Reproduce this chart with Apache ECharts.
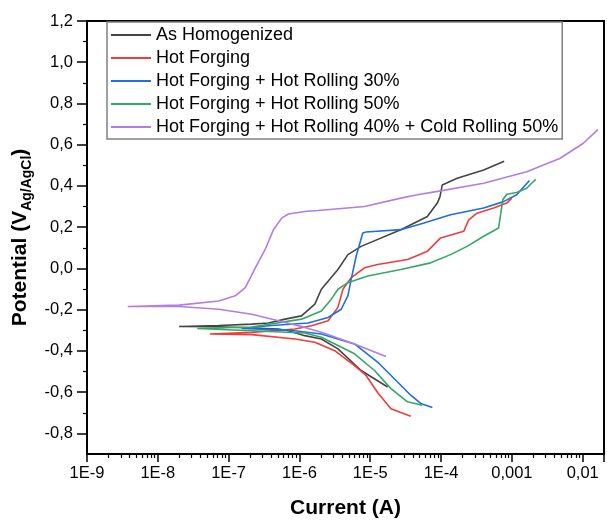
<!DOCTYPE html>
<html>
<head>
<meta charset="utf-8">
<title>Tafel</title>
<script src="https://cdn.jsdelivr.net/npm/echarts@6/dist/echarts.min.js"></script>
<style>
html, body { margin: 0; padding: 0; background: #fff; }
#chart { width: 607px; height: 524px; }
</style>
</head>
<body>
<div id="chart"></div>
<script>
/* 极化曲线 (Tafel) */
var seriesNames = ['As Homogenized', 'Hot Forging', 'Hot Forging + Hot Rolling 30%',
    'Hot Forging + Hot Rolling 50%', 'Hot Forging + Hot Rolling 40% + Cold Rolling 50%'];
var seriesColors = ['#454545', '#f23b3b', '#1f6fde', '#35a865', '#b27de4'];

// 每条曲线: 从阴极端到腐蚀电位, 再到阳极端
var homCurrent = [1.76e-5, 7.43e-6, 3.50e-6, 2.04e-6, 1.19e-6, 6.97e-7, 5.05e-7, 7.26e-8, 2.0e-8,
    7.26e-8, 2.13e-7, 3.65e-7, 6.27e-7, 1.07e-6, 1.65e-6, 2.04e-6, 2.68e-6, 3.5e-6, 4.83e-6, 7.43e-6,
    2.7e-5, 4.63e-5, 6.4e-5, 8.85e-5, 9.66e-5, 1.04e-4, 1.69e-4, 4.0e-4, 7.78e-4];
var homPotential = [-0.575, -0.495, -0.390, -0.342, -0.326, -0.302, -0.294, -0.283, -0.282,
    -0.277, -0.270, -0.265, -0.246, -0.230, -0.173, -0.101, -0.053, -0.005, 0.067, 0.107,
    0.188, 0.228, 0.252, 0.317, 0.348, 0.405, 0.437, 0.477, 0.520];

var hfCurrent = [3.73e-5, 2.70e-5, 1.96e-5, 1.27e-5, 8.73e-6, 6.0e-6, 3.15e-6, 1.65e-6, 8.65e-7, 2.13e-7, 5.43e-8,
    2.13e-7, 8.65e-7, 1.48e-6, 2.54e-6, 3.5e-6, 4.11e-6, 5.38e-6, 8.3e-6, 1.27e-5, 3.36e-5, 4.63e-5,
    6.4e-5, 9.84e-5, 2.09e-4, 2.46e-4, 3.22e-4, 5.52e-4, 8.47e-4, 9.98e-4];
var hfPotential = [-0.717, -0.699, -0.680, -0.602, -0.519, -0.471, -0.399, -0.358, -0.342, -0.321, -0.318,
    -0.310, -0.294, -0.278, -0.254, -0.189, -0.101, -0.045, 0.003, 0.019, 0.043, 0.063,
    0.083, 0.148, 0.180, 0.236, 0.268, 0.293, 0.317, 0.341];

var hr30Current = [7.54e-5, 5.15e-5, 3.73e-5, 2.43e-5, 1.27e-5, 6.0e-6, 2.04e-6, 6.97e-7, 1.53e-7,
    3.65e-7, 1.33e-6, 2.54e-6, 3.89e-6, 4.83e-6, 5.38e-6, 6.32e-6, 7.85e-6, 8.73e-6, 2.7e-5,
    5.75e-5, 1.36e-4, 4.0e-4, 7.62e-4, 1.17e-3, 1.77e-3];
var hr30Potential = [-0.675, -0.655, -0.615, -0.551, -0.454, -0.366, -0.318, -0.299, -0.291,
    -0.278, -0.265, -0.238, -0.198, -0.133, -0.053, 0.059, 0.172, 0.177, 0.188,
    0.220, 0.260, 0.293, 0.324, 0.357, 0.426];

var hr50Current = [5.44e-5, 3.36e-5, 1.96e-5, 1.15e-5, 6.0e-6, 2.04e-6, 1.19e-6, 2.13e-7, 3.61e-8,
    2.13e-7, 1.07e-6, 2.04e-6, 2.82e-6, 3.5e-6, 4.83e-6, 9.23e-6, 2.7e-5, 7.13e-5, 1.36e-4,
    2.33e-4, 4.0e-4, 6.49e-4, 6.98e-4, 7.45e-4, 8.47e-4, 1.17e-3, 1.62e-3, 1.90e-3, 2.18e-3];
var hr50Potential = [-0.664, -0.647, -0.583, -0.495, -0.414, -0.334, -0.313, -0.302, -0.291,
    -0.284, -0.246, -0.206, -0.149, -0.101, -0.069, -0.037, -0.005, 0.027, 0.067,
    0.107, 0.156, 0.196, 0.268, 0.333, 0.360, 0.368, 0.389, 0.413, 0.432];

var crCurrent = [1.67e-5, 6.0e-6, 2.04e-6, 1.19e-6, 5.05e-7, 2.13e-7, 7.26e-8, 2.0e-8, 3.76e-9,
    2.0e-8, 7.26e-8, 1.24e-7, 1.72e-7, 2.38e-7, 3.28e-7, 4.3e-7, 5.61e-7, 6.97e-7, 1.19e-6,
    1.84e-6, 8.3e-6, 2.7e-5, 4.63e-5, 9.84e-5, 4.0e-4, 1.62e-3, 4.74e-3, 0.0101, 0.0164];
var crPotential = [-0.427, -0.366, -0.310, -0.286, -0.254, -0.222, -0.198, -0.185, -0.185,
    -0.178, -0.158, -0.133, -0.093, 0.003, 0.092, 0.188, 0.244, 0.264, 0.276,
    0.281, 0.300, 0.341, 0.357, 0.376, 0.413, 0.469, 0.533, 0.606, 0.673];

// 坐标轴
var xMin = 1e-9, xMax = 0.02;
var xTickLabels = ['1E-9', '1E-8', '1E-7', '1E-6', '1E-5', '1E-4', '0,001', '0,01'];
var yMin = -0.9, yMax = 1.2;
var yTickValues = [-0.8, -0.6, -0.4, -0.2, 0, 0.2, 0.4, 0.6, 0.8, 1.0, 1.2];
var yMinorValues = [-0.7, -0.5, -0.3, -0.1, 0.1, 0.3, 0.5, 0.7, 0.9, 1.1];

var fontName = 'Liberation Sans, Arial, sans-serif';

function pairs(xs, ys) {
    var out = [];
    for (var i = 0; i < xs.length; i++) {
        out.push([xs[i], ys[i]]);
    }
    return out;
}

// 对数轴的次刻度 (2..9)
function logMinorTicks() {
    var out = [];
    for (var e = -9; e <= -2; e++) {
        for (var k = 2; k <= 9; k++) {
            var v = Math.log10(k) + e;
            if (v < Math.log10(xMax)) out.push(v);
        }
    }
    return out;
}

var curves = [
    pairs(homCurrent, homPotential),
    pairs(hfCurrent, hfPotential),
    pairs(hr30Current, hr30Potential),
    pairs(hr50Current, hr50Potential),
    pairs(crCurrent, crPotential)
];

var series = [];
for (var i = 0; i < curves.length; i++) {
    series.push({
        name: seriesNames[i],
        type: 'line',
        data: curves[i],
        xAxisIndex: 0,
        yAxisIndex: 0,
        symbol: 'none',
        showSymbol: false,
        animation: false,
        lineStyle: { color: seriesColors[i], width: 1.6 },
        itemStyle: { color: seriesColors[i] }
    });
}

var myChart = echarts.init(document.getElementById('chart'));
myChart.setOption({
    animation: false,
    backgroundColor: '#fff',
    textStyle: { fontFamily: fontName },
    grid: {
        left: 87, right: 0, top: 21, bottom: 69,
        show: true, borderColor: '#000', borderWidth: 2
    },
    legend: {
        data: seriesNames,
        orient: 'vertical',
        left: 107,
        top: 22,
        padding: [4, 4, 3, 3],
        itemWidth: 40,
        itemHeight: 14,
        itemGap: 5,
        backgroundColor: '#fff',
        borderColor: '#808080',
        borderWidth: 1.5,
        borderRadius: 0,
        itemStyle: { opacity: 0, borderWidth: 0 },
        textStyle: { fontSize: 18, color: '#000', fontFamily: fontName }
    },
    xAxis: [{
        type: 'log',
        logBase: 10,
        min: xMin,
        max: xMax,
        splitNumber: 10,
        name: 'Current (A)',
        nameLocation: 'middle',
        nameGap: 44,
        nameTextStyle: { fontSize: 21, fontWeight: 'bold', color: '#000', fontFamily: fontName },
        axisLine: { onZero: false, lineStyle: { color: '#000', width: 2 } },
        axisTick: { show: true, length: 8, lineStyle: { color: '#000', width: 1.5 } },
        splitLine: { show: false },
        axisLabel: {
            margin: 11,
            fontSize: 16.5,
            color: '#000',
            fontFamily: fontName,
            formatter: function (v) {
                var lg = Math.log10(v);
                var e = Math.round(lg);
                if (Math.abs(lg - e) > 1e-6) return '';
                return xTickLabels[e + 9] || '';
            }
        }
    }, {
        // 次刻度
        type: 'value',
        min: -9,
        max: Math.log10(xMax),
        position: 'bottom',
        axisLine: { show: false, onZero: false },
        axisLabel: { show: false },
        splitLine: { show: false },
        axisTick: { show: true, length: 4, customValues: logMinorTicks(), lineStyle: { color: '#000', width: 1.2 } }
    }],
    yAxis: [{
        type: 'value',
        min: yMin,
        max: yMax,
        interval: 0.1,
        name: '{b|Potential (V}{s|Ag/AgCl}{b|)}',
        nameLocation: 'middle',
        nameGap: 52,
        nameTextStyle: {
            fontFamily: fontName,
            rich: {
                b: { fontSize: 21, fontWeight: 'bold', color: '#000', lineHeight: 26, fontFamily: fontName },
                s: { fontSize: 14, fontWeight: 'bold', color: '#000', lineHeight: 14, verticalAlign: 'bottom', fontFamily: fontName }
            }
        },
        axisLine: { show: true, onZero: false, lineStyle: { color: '#000', width: 2 } },
        axisTick: { show: true, length: 10, customValues: yTickValues, lineStyle: { color: '#000', width: 1.5 } },
        splitLine: { show: false },
        axisLabel: {
            margin: 14,
            fontSize: 16.5,
            color: '#000',
            fontFamily: fontName,
            customValues: yTickValues,
            formatter: function (v) {
                return v.toFixed(1).replace('.', ',');
            }
        }
    }, {
        type: 'value',
        min: yMin,
        max: yMax,
        position: 'left',
        axisLine: { show: false, onZero: false },
        axisLabel: { show: false },
        splitLine: { show: false },
        axisTick: { show: true, length: 4, customValues: yMinorValues, lineStyle: { color: '#000', width: 1.2 } }
    }],
    series: series
});
</script>
</body>
</html>
